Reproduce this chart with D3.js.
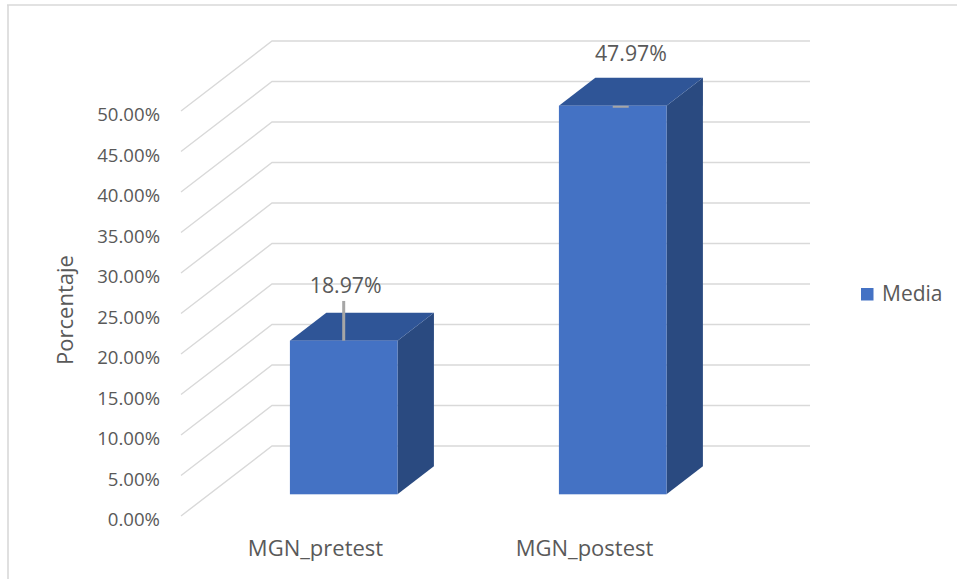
<!DOCTYPE html>
<html>
<head>
<meta charset="utf-8">
<script src="https://cdn.jsdelivr.net/npm/d3@7"></script>
<style>
  html, body { margin: 0; padding: 0; background: #fff; }
  svg { display: block; font-family: "Open Sans", "Noto Sans", sans-serif; }
</style>
</head>
<body>
<svg id="chart" width="957" height="579"></svg>
<script>
// Series data
const categories = ["MGN_pretest", "MGN_postest"];
const mediaValues = [0.1897, 0.4797];
const errorValues = [0.049, 0];
const seriesName = "Media";
const yTicks = [0, 0.05, 0.10, 0.15, 0.20, 0.25, 0.30, 0.35, 0.40, 0.45, 0.50];

const W = 957, H = 579;
const svg = d3.select("#chart");

// 3D geometry: front floor edge and depth vector to the back wall
const front = { left: 181, right: 719, zero: 516, top: 111 };
const depth = { dx: 91, dy: -70 };
const barDepth = [0.31, 0.71];     // bars occupy this slice of the depth
const barWidthRatio = 0.4;

const x = d3.scaleBand().domain(categories).range([front.left, front.right]).padding(0);
const yFront = d3.scaleLinear().domain([0, 0.5]).range([front.zero, front.top]);

const gridColor = "#d9d9d9";
const textColor = "#595959";
const barColor = "#4472c4";
const topColor = "#2f5597";
const sideColor = "#2a4a80";

// Chart area border
svg.append("path")
  .attr("d", `M7,5 H${W} M8,5 V${H}`)
  .attr("fill", "none").attr("stroke", gridColor).attr("stroke-width", 1.6);

// Gridlines: floor-side diagonal then back wall
svg.append("g").selectAll("path").data(yTicks).join("path")
  .attr("d", v => {
    const y0 = yFront(v);
    return `M${front.left},${y0} L${front.left + depth.dx},${y0 + depth.dy} L${front.right + depth.dx},${y0 + depth.dy}`;
  })
  .attr("fill", "none").attr("stroke", gridColor).attr("stroke-width", 1.4);

// Bars
const bars = categories.map((c, i) => {
  const bw = x.bandwidth() * barWidthRatio;
  const ox = depth.dx * barDepth[0], oy = depth.dy * barDepth[0];
  const ddx = depth.dx * (barDepth[1] - barDepth[0]);
  const ddy = depth.dy * (barDepth[1] - barDepth[0]);
  const x0 = x(c) + (x.bandwidth() - bw) / 2 + ox;
  const x1 = x0 + bw;
  const yb = yFront(0) + oy;
  const yt = yFront(mediaValues[i]) + oy;
  const ye = yFront(mediaValues[i] + errorValues[i]) + oy;
  return { c, i, x0, x1, yb, yt, ye, ddx, ddy, value: mediaValues[i], err: errorValues[i] };
});

const gBars = svg.append("g");
bars.forEach(b => {
  gBars.append("polygon")
    .attr("points", [[b.x1, b.yb], [b.x1, b.yt], [b.x1 + b.ddx, b.yt + b.ddy], [b.x1 + b.ddx, b.yb + b.ddy]].join(" "))
    .attr("fill", sideColor);
  gBars.append("polygon")
    .attr("points", [[b.x0, b.yt], [b.x1, b.yt], [b.x1 + b.ddx, b.yt + b.ddy], [b.x0 + b.ddx, b.yt + b.ddy]].join(" "))
    .attr("fill", topColor);
  gBars.append("rect")
    .attr("x", b.x0).attr("y", b.yt)
    .attr("width", b.x1 - b.x0).attr("height", b.yb - b.yt)
    .attr("fill", barColor);
});

// Error bars
const errColor = "#a6a6a6";
bars.forEach(b => {
  const cx = (b.x0 + b.x1) / 2;
  if (b.err > 0) {
    gBars.append("line")
      .attr("x1", cx).attr("x2", cx).attr("y1", b.yt).attr("y2", b.ye)
      .attr("stroke", errColor).attr("stroke-width", 3);
  } else {
    gBars.append("line")
      .attr("x1", cx).attr("x2", cx + 16).attr("y1", b.yt + 1).attr("y2", b.yt + 1)
      .attr("stroke", errColor).attr("stroke-width", 2);
  }
});

// Data labels
const fmt = d3.format(".2%");
svg.append("g").selectAll("text").data(bars).join("text")
  .attr("x", b => b.err > 0 ? (b.x0 + b.x1) / 2 + 2 : (b.x0 + b.x1) / 2 + b.ddx / 2)
  .attr("y", b => b.err > 0 ? b.ye - 8 : b.yt + b.ddy - 17)
  .attr("text-anchor", "middle")
  .attr("font-size", 21.3)
  .attr("fill", textColor)
  .text(b => fmt(b.value));

// Y axis tick labels
const yAxis = d3.axisLeft(yFront).tickValues(yTicks).tickFormat(fmt).tickSize(0).tickPadding(0);
const gy = svg.append("g").attr("transform", "translate(160,0)").call(yAxis);
gy.select(".domain").remove();
gy.selectAll("text")
  .attr("font-family", "'Open Sans', 'Noto Sans', sans-serif")
  .attr("font-size", 18.6)
  .attr("fill", textColor)
  .attr("dy", "0.52em");

// X axis category labels
svg.append("g").selectAll("text").data(categories).join("text")
  .attr("x", c => x(c) + x.bandwidth() / 2)
  .attr("y", 555.5)
  .attr("text-anchor", "middle")
  .attr("font-size", 22)
  .attr("fill", textColor)
  .text(c => c);

// Y axis title
svg.append("text")
  .attr("transform", "translate(73,310) rotate(-90)")
  .attr("text-anchor", "middle")
  .attr("font-size", 22)
  .attr("fill", textColor)
  .text("Porcentaje");

// Legend
const legend = svg.append("g").attr("transform", "translate(861,288)");
legend.append("rect").attr("width", 12.5).attr("height", 12.5).attr("fill", barColor);
legend.append("text").attr("x", 21).attr("y", 13.3)
  .attr("font-size", 21).attr("fill", textColor).text(seriesName);
</script>
</body>
</html>
